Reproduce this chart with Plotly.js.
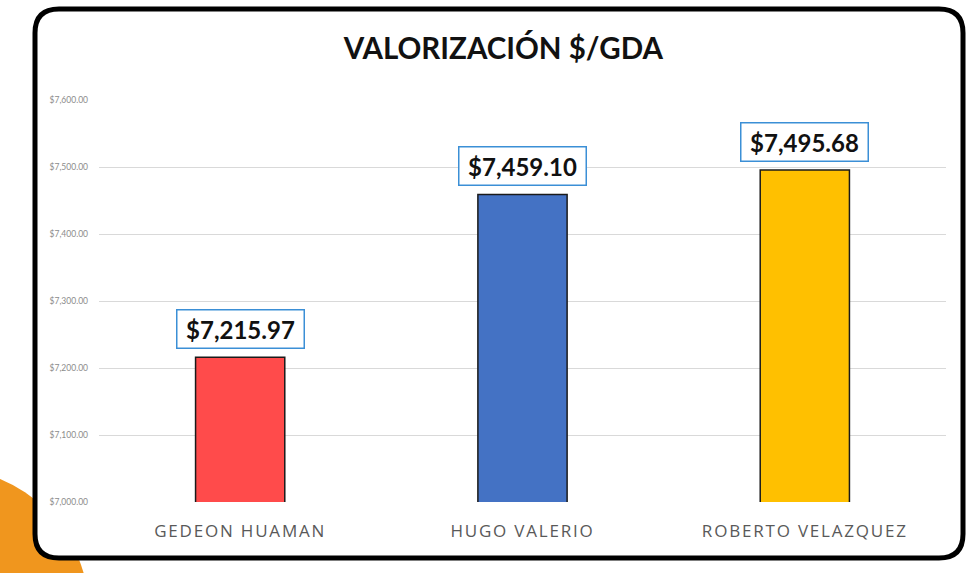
<!DOCTYPE html>
<html>
<head>
<meta charset="utf-8">
<script src="https://cdn.plot.ly/plotly-3.0.1.min.js"></script>
<style>
html,body{margin:0;padding:0;background:#fff;}
#chart{width:966px;height:573px;}
#chart .xtick text{letter-spacing:1.8px;}
</style>
</head>
<body>
<div id="chart"></div>
<script>
// Data
const categories = ["GEDEON HUAMAN", "HUGO VALERIO", "ROBERTO VELAZQUEZ"];
const values = [7215.97, 7459.10, 7495.68];
const barColors = ["#FF4B4B", "#4472C4", "#FFC000"];
const valueLabels = ["$7,215.97", "$7,459.10", "$7,495.68"];
const chartTitle = "VALORIZACIÓN $/GDA";

// Layout geometry (pixels)
const W = 966, H = 573;
const M = {l: 99, r: 20, t: 100, b: 71};
const PW = W - M.l - M.r, PH = H - M.t - M.b;
const px = x => (x - M.l) / PW;
const py = y => (H - M.b - y) / PH;

function roundRect(x0, y0, x1, y1, r) {
  const P = (x, y) => px(x) + "," + py(y);
  return "M" + P(x0 + r, y0) + " L" + P(x1 - r, y0) + " Q" + P(x1, y0) + " " + P(x1, y0 + r) +
    " L" + P(x1, y1 - r) + " Q" + P(x1, y1) + " " + P(x1 - r, y1) +
    " L" + P(x0 + r, y1) + " Q" + P(x0, y1) + " " + P(x0, y1 - r) +
    " L" + P(x0, y0 + r) + " Q" + P(x0, y0) + " " + P(x0 + r, y0) + " Z";
}

const font = "Lato, 'Open Sans', sans-serif";

const trace = {
  type: "bar",
  x: categories,
  y: values,
  width: 0.316,
  marker: {color: barColors, line: {color: "#1a1a1a", width: 1.5}},
  hoverinfo: "x+y"
};

const annotations = categories.map((c, i) => ({
  x: c, y: values[i], xref: "x", yref: "y",
  text: "<b>" + valueLabels[i] + "</b>",
  showarrow: false, yanchor: "bottom", yshift: 8,
  width: 120, height: 31,
  font: {family: font, size: 24, color: "#111"},
  bgcolor: "#ffffff", bordercolor: "#3b8fd6", borderwidth: 1.5, borderpad: 3
}));

const layout = {
  width: W, height: H,
  margin: M,
  paper_bgcolor: "#ffffff",
  plot_bgcolor: "rgba(0,0,0,0)",
  showlegend: false,
  title: {text: "<b>" + chartTitle + "</b>", x: 0.521, xanchor: "center", y: 1 - 49 / H, yanchor: "middle",
          font: {family: font, size: 29.5, color: "#111"}},
  xaxis: {type: "category", range: [-0.5, 2.5], showgrid: false, zeroline: false, showline: false,
          ticks: "", tickfont: {family: "'Open Sans', sans-serif", size: 17, color: "#595959"}, ticklabelstandoff: 17},
  yaxis: {range: [7000, 7600], dtick: 100, tick0: 7000, tickformat: "$,.2f",
          gridcolor: "#d9d9d9", gridwidth: 1, zeroline: false, showline: false,
          tickfont: {family: font, size: 8.5, color: "#8c8c8c"}, ticklabelstandoff: 10},
  annotations: annotations,
  shapes: [
    {type: "circle", xref: "paper", yref: "paper", layer: "below",
     x0: px(-55 - 144), x1: px(-55 + 144), y0: py(612 + 144), y1: py(612 - 144),
     fillcolor: "#F0961E", line: {width: 0}},
    {type: "path", xref: "paper", yref: "paper", layer: "below",
     path: roundRect(35, 9, 963, 558, 24),
     fillcolor: "#ffffff", line: {color: "#000000", width: 5}}
  ]
};

Plotly.newPlot("chart", [trace], layout, {displayModeBar: false, staticPlot: true});
</script>
</body>
</html>
